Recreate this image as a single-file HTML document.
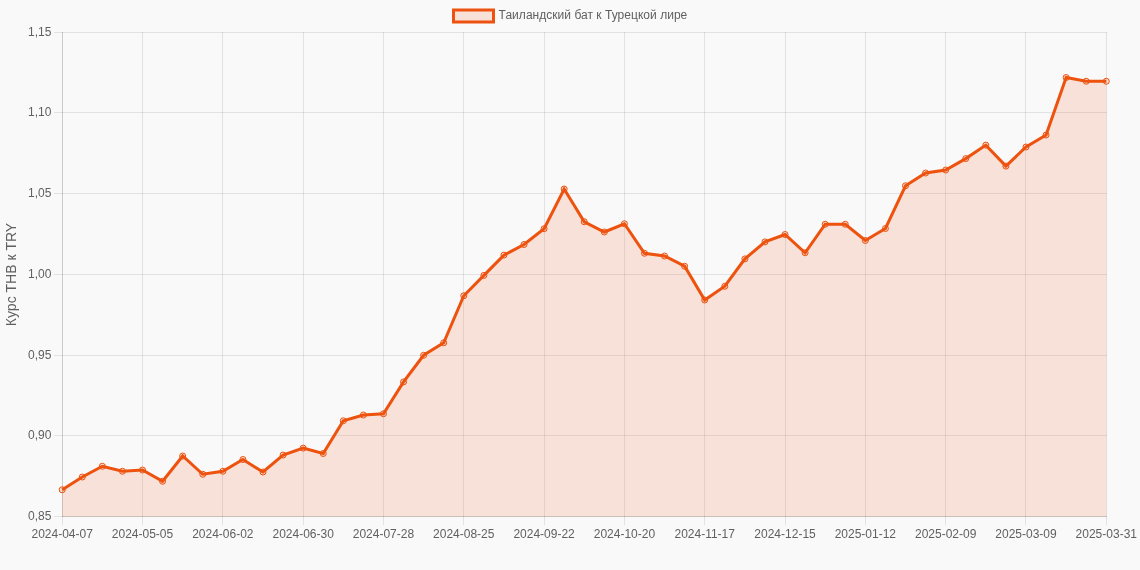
<!DOCTYPE html>
<html lang="ru"><head><meta charset="utf-8"><title>Тайландский бат к Турецкой лире</title>
<style>
html,body{margin:0;padding:0;background:#f9f9f9;}
body{width:1140px;height:570px;overflow:hidden;}
svg{display:block;}
text{font-family:"Liberation Sans",Arial,Helvetica,sans-serif;fill:#606060;}
.t{font-size:12px;}
</style></head><body>
<svg width="1140" height="570" viewBox="0 0 1140 570">
<rect width="1140" height="570" fill="#f9f9f9"/>
<rect x="453.5" y="10" width="40" height="12" fill="rgba(240,85,18,0.14)" stroke="#ed520e" stroke-width="3"/>
<text class="t" x="498.6" y="18.5" letter-spacing="0.03">Таиландский бат к Турецкой лире</text>
<g stroke="rgba(0,0,0,0.09)" stroke-width="1" shape-rendering="crispEdges">
<line x1="54" x2="1107" y1="32.50" y2="32.50"/>
<line x1="54" x2="1107" y1="112.50" y2="112.50"/>
<line x1="54" x2="1107" y1="193.50" y2="193.50"/>
<line x1="54" x2="1107" y1="274.50" y2="274.50"/>
<line x1="54" x2="1107" y1="355.50" y2="355.50"/>
<line x1="54" x2="1107" y1="435.50" y2="435.50"/>
<line x1="54" x2="1107" y1="516.50" y2="516.50"/>
<line x1="62.50" x2="62.50" y1="32" y2="525"/>
<line x1="142.50" x2="142.50" y1="32" y2="525"/>
<line x1="222.50" x2="222.50" y1="32" y2="525"/>
<line x1="303.50" x2="303.50" y1="32" y2="525"/>
<line x1="383.50" x2="383.50" y1="32" y2="525"/>
<line x1="463.50" x2="463.50" y1="32" y2="525"/>
<line x1="544.50" x2="544.50" y1="32" y2="525"/>
<line x1="624.50" x2="624.50" y1="32" y2="525"/>
<line x1="704.50" x2="704.50" y1="32" y2="525"/>
<line x1="785.50" x2="785.50" y1="32" y2="525"/>
<line x1="865.50" x2="865.50" y1="32" y2="525"/>
<line x1="945.50" x2="945.50" y1="32" y2="525"/>
<line x1="1025.50" x2="1025.50" y1="32" y2="525"/>
<line x1="1106.50" x2="1106.50" y1="32" y2="525"/>
</g>
<g stroke="rgba(0,0,0,0.1)" stroke-width="1" shape-rendering="crispEdges"><line x1="62.5" x2="62.5" y1="32" y2="517"/><line x1="62" x2="1107" y1="516.5" y2="516.5"/></g>
<text class="t" x="51.4" y="35.50" text-anchor="end">1,15</text>
<text class="t" x="51.4" y="116.28" text-anchor="end">1,10</text>
<text class="t" x="51.4" y="197.07" text-anchor="end">1,05</text>
<text class="t" x="51.4" y="277.85" text-anchor="end">1,00</text>
<text class="t" x="51.4" y="358.63" text-anchor="end">0,95</text>
<text class="t" x="51.4" y="439.42" text-anchor="end">0,90</text>
<text class="t" x="51.4" y="520.20" text-anchor="end">0,85</text>
<text class="t" x="62.20" y="537.8" text-anchor="middle">2024-04-07</text>
<text class="t" x="142.52" y="537.8" text-anchor="middle">2024-05-05</text>
<text class="t" x="222.83" y="537.8" text-anchor="middle">2024-06-02</text>
<text class="t" x="303.15" y="537.8" text-anchor="middle">2024-06-30</text>
<text class="t" x="383.46" y="537.8" text-anchor="middle">2024-07-28</text>
<text class="t" x="463.78" y="537.8" text-anchor="middle">2024-08-25</text>
<text class="t" x="544.09" y="537.8" text-anchor="middle">2024-09-22</text>
<text class="t" x="624.41" y="537.8" text-anchor="middle">2024-10-20</text>
<text class="t" x="704.72" y="537.8" text-anchor="middle">2024-11-17</text>
<text class="t" x="785.04" y="537.8" text-anchor="middle">2024-12-15</text>
<text class="t" x="865.35" y="537.8" text-anchor="middle">2025-01-12</text>
<text class="t" x="945.67" y="537.8" text-anchor="middle">2025-02-09</text>
<text class="t" x="1025.98" y="537.8" text-anchor="middle">2025-03-09</text>
<text class="t" x="1106.30" y="537.8" text-anchor="middle">2025-03-31</text>
<text x="0" y="0" font-size="14" text-anchor="middle" transform="translate(16.4,274.5) rotate(-90)">Курс THB к TRY</text>
<polygon points="62.20,516.7 62.20,489.75 82.28,477.00 102.36,466.25 122.44,471.25 142.52,470.00 162.59,481.25 182.67,456.00 202.75,474.25 222.83,471.25 242.91,459.50 262.99,472.00 283.07,455.00 303.15,448.10 323.22,453.50 343.30,420.75 363.38,415.00 383.46,413.75 403.54,381.90 423.62,355.25 443.70,342.75 463.78,295.75 483.86,275.40 503.93,255.10 524.01,244.50 544.09,228.75 564.17,189.00 584.25,221.75 604.33,232.00 624.41,223.75 644.49,253.25 664.57,256.00 684.64,266.25 704.72,300.00 724.80,286.25 744.88,258.90 764.96,241.90 785.04,234.50 805.12,252.75 825.20,224.25 845.27,224.25 865.35,240.50 885.43,228.50 905.51,185.75 925.59,173.00 945.67,170.00 965.75,158.60 985.83,145.10 1005.91,166.10 1025.98,147.00 1046.06,135.00 1066.14,77.50 1086.22,81.25 1106.30,81.25 1106.30,516.7" fill="rgba(240,85,18,0.14)"/>
<polyline points="62.20,489.75 82.28,477.00 102.36,466.25 122.44,471.25 142.52,470.00 162.59,481.25 182.67,456.00 202.75,474.25 222.83,471.25 242.91,459.50 262.99,472.00 283.07,455.00 303.15,448.10 323.22,453.50 343.30,420.75 363.38,415.00 383.46,413.75 403.54,381.90 423.62,355.25 443.70,342.75 463.78,295.75 483.86,275.40 503.93,255.10 524.01,244.50 544.09,228.75 564.17,189.00 584.25,221.75 604.33,232.00 624.41,223.75 644.49,253.25 664.57,256.00 684.64,266.25 704.72,300.00 724.80,286.25 744.88,258.90 764.96,241.90 785.04,234.50 805.12,252.75 825.20,224.25 845.27,224.25 865.35,240.50 885.43,228.50 905.51,185.75 925.59,173.00 945.67,170.00 965.75,158.60 985.83,145.10 1005.91,166.10 1025.98,147.00 1046.06,135.00 1066.14,77.50 1086.22,81.25 1106.30,81.25" fill="none" stroke="#ed520e" stroke-width="3" stroke-linejoin="miter" stroke-linecap="butt"/>
<g fill="rgba(240,85,18,0.14)" stroke="#ed520e" stroke-width="1">
<circle cx="62.20" cy="489.75" r="3"/>
<circle cx="82.28" cy="477.00" r="3"/>
<circle cx="102.36" cy="466.25" r="3"/>
<circle cx="122.44" cy="471.25" r="3"/>
<circle cx="142.52" cy="470.00" r="3"/>
<circle cx="162.59" cy="481.25" r="3"/>
<circle cx="182.67" cy="456.00" r="3"/>
<circle cx="202.75" cy="474.25" r="3"/>
<circle cx="222.83" cy="471.25" r="3"/>
<circle cx="242.91" cy="459.50" r="3"/>
<circle cx="262.99" cy="472.00" r="3"/>
<circle cx="283.07" cy="455.00" r="3"/>
<circle cx="303.15" cy="448.10" r="3"/>
<circle cx="323.22" cy="453.50" r="3"/>
<circle cx="343.30" cy="420.75" r="3"/>
<circle cx="363.38" cy="415.00" r="3"/>
<circle cx="383.46" cy="413.75" r="3"/>
<circle cx="403.54" cy="381.90" r="3"/>
<circle cx="423.62" cy="355.25" r="3"/>
<circle cx="443.70" cy="342.75" r="3"/>
<circle cx="463.78" cy="295.75" r="3"/>
<circle cx="483.86" cy="275.40" r="3"/>
<circle cx="503.93" cy="255.10" r="3"/>
<circle cx="524.01" cy="244.50" r="3"/>
<circle cx="544.09" cy="228.75" r="3"/>
<circle cx="564.17" cy="189.00" r="3"/>
<circle cx="584.25" cy="221.75" r="3"/>
<circle cx="604.33" cy="232.00" r="3"/>
<circle cx="624.41" cy="223.75" r="3"/>
<circle cx="644.49" cy="253.25" r="3"/>
<circle cx="664.57" cy="256.00" r="3"/>
<circle cx="684.64" cy="266.25" r="3"/>
<circle cx="704.72" cy="300.00" r="3"/>
<circle cx="724.80" cy="286.25" r="3"/>
<circle cx="744.88" cy="258.90" r="3"/>
<circle cx="764.96" cy="241.90" r="3"/>
<circle cx="785.04" cy="234.50" r="3"/>
<circle cx="805.12" cy="252.75" r="3"/>
<circle cx="825.20" cy="224.25" r="3"/>
<circle cx="845.27" cy="224.25" r="3"/>
<circle cx="865.35" cy="240.50" r="3"/>
<circle cx="885.43" cy="228.50" r="3"/>
<circle cx="905.51" cy="185.75" r="3"/>
<circle cx="925.59" cy="173.00" r="3"/>
<circle cx="945.67" cy="170.00" r="3"/>
<circle cx="965.75" cy="158.60" r="3"/>
<circle cx="985.83" cy="145.10" r="3"/>
<circle cx="1005.91" cy="166.10" r="3"/>
<circle cx="1025.98" cy="147.00" r="3"/>
<circle cx="1046.06" cy="135.00" r="3"/>
<circle cx="1066.14" cy="77.50" r="3"/>
<circle cx="1086.22" cy="81.25" r="3"/>
<circle cx="1106.30" cy="81.25" r="3"/>
</g>
</svg></body></html>
